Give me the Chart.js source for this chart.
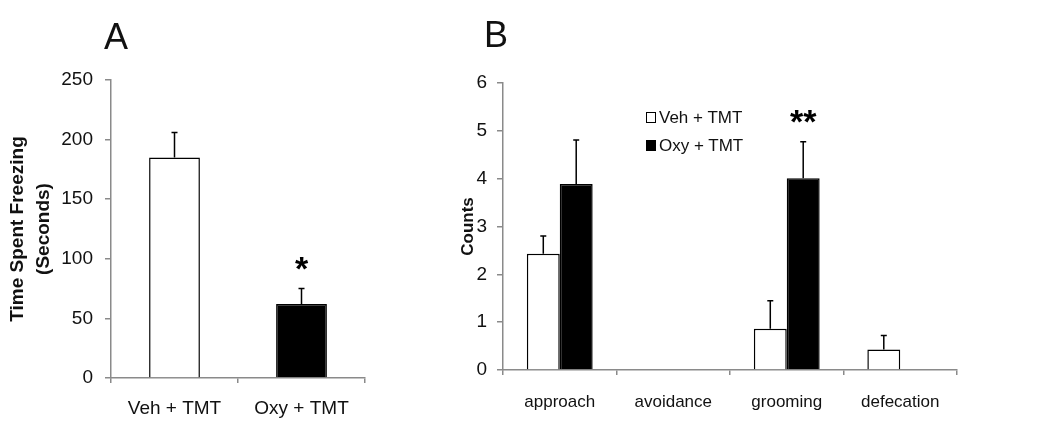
<!DOCTYPE html>
<html>
<head>
<meta charset="utf-8">
<script src="https://cdn.jsdelivr.net/npm/chart.js@4/dist/chart.umd.min.js"></script>
<style>
  body { margin: 0; background: #fff; font-family: "Liberation Sans", Arial, sans-serif; }
  #page { position: relative; width: 1050px; height: 425px; overflow: hidden; }
  .panel { position: absolute; top: 0; height: 425px; }
  .letter { position: absolute; font-size: 36px; line-height: 1; color: #111; }
  #legendB { position: absolute; left: 646px; top: 104px; font-size: 17px; color: #111; }
  #legendB .row { position: relative; height: 28px; line-height: 28px; padding-left: 13px; white-space: nowrap; }
  #legendB .box { position: absolute; left: 0; top: 8px; width: 8px; height: 9px; border: 1px solid #000; }
</style>
</head>
<body>
<div id="page">
  <div class="panel" style="left:0;width:380px"><canvas id="chartA"></canvas></div>
  <div class="panel" style="left:440px;width:610px"><canvas id="chartB"></canvas></div>
  <div class="letter" style="left:104px;top:19px">A</div>
  <div class="letter" style="left:484px;top:17px">B</div>
  <div id="legendB"></div>
</div>
<script>
// panel A
const groupsA = ['Veh + TMT', 'Oxy + TMT'];
const freezing = [185, 62];
const freezingErr = [21, 13];
const freezingSig = ['', '*'];

// panel B
const behaviours = ['approach', 'avoidance', 'grooming', 'defecation'];
const vehCounts = [2.43, 0, 0.86, 0.43];
const vehErr = [0.37, 0, 0.59, 0.29];
const oxyCounts = [3.89, 0, 4.01, 0];
const oxyErr = [0.92, 0, 0.76, 0];
const oxySig = ['', '', '**', ''];

const FONT = '"Liberation Sans", Arial, sans-serif';
const AXIS = '#8a8a8a';
const TEXT = '#111';

// error bars (upward only) and significance stars
const errorBars = {
  id: 'errorBars',
  afterDatasetsDraw(chart) {
    const ctx = chart.ctx;
    const y = chart.scales.y;
    chart.data.datasets.forEach((ds, i) => {
      const meta = chart.getDatasetMeta(i);
      meta.data.forEach((bar, j) => {
        const err = ds.errors ? ds.errors[j] : 0;
        if (!err) return;
        const top = y.getPixelForValue(ds.data[j] + err);
        ctx.save();
        ctx.strokeStyle = '#000';
        ctx.lineWidth = 1.5;
        ctx.beginPath();
        ctx.moveTo(bar.x, bar.y);
        ctx.lineTo(bar.x, top);
        ctx.moveTo(bar.x - 3, top);
        ctx.lineTo(bar.x + 3, top);
        ctx.stroke();
        const mark = ds.marks ? ds.marks[j] : '';
        if (mark) {
          ctx.fillStyle = '#000';
          ctx.font = 'bold 34px ' + FONT;
          ctx.textAlign = 'center';
          ctx.textBaseline = 'middle';
          ctx.fillText(mark, bar.x, top - 18);
        }
        ctx.restore();
      });
    });
  }
};

function axes(opts) {
  return {
    x: {
      offset: true,
      grid: { offset: true, drawOnChartArea: false, tickLength: 5, color: AXIS, lineWidth: 1.5 },
      border: { color: AXIS, width: 1.5 },
      ticks: { color: TEXT, font: { family: FONT, size: opts.xFont }, padding: opts.xPad, maxRotation: 0 },
      afterFit: s => { s.height = opts.xHeight; }
    },
    y: {
      min: 0, max: opts.max,
      grid: { drawOnChartArea: false, tickLength: 6, color: AXIS, lineWidth: 1.5 },
      border: { color: AXIS, width: 1.5 },
      ticks: { stepSize: opts.step, color: TEXT, font: { family: FONT, size: opts.yFont }, padding: opts.yPad },
      title: { display: true, text: opts.title, color: TEXT, font: { family: FONT, size: opts.titleFont, weight: 'bold', lineHeight: opts.titleLH }, padding: opts.titlePad },
      afterFit: s => { s.width = opts.yWidth; }
    }
  };
}

new Chart(document.getElementById('chartA'), {
  type: 'bar',
  data: {
    labels: groupsA,
    datasets: [{
      label: 'Freezing',
      data: freezing,
      errors: freezingErr,
      marks: freezingSig,
      backgroundColor: ['#ffffff', '#000000'],
      borderColor: '#000',
      borderWidth: 1.5,
      categoryPercentage: 0.4,
      barPercentage: 1
    }]
  },
  options: {
    responsive: true,
    maintainAspectRatio: false,
    animation: false,
    layout: { padding: { left: 0, right: 15, top: 80, bottom: 0 } },
    plugins: { legend: { display: false }, tooltip: { enabled: false } },
    scales: axes({ max: 250, step: 50, xFont: 19, yFont: 19, xPad: 14, yPad: 12, xHeight: 47, yWidth: 111,
      title: ['Time Spent Freezing', '(Seconds)'], titleFont: 19, titleLH: 1.37, titlePad: 5 })
  },
  plugins: [errorBars]
});

const chartB = new Chart(document.getElementById('chartB'), {
  type: 'bar',
  data: {
    labels: behaviours,
    datasets: [
      { label: 'Veh + TMT', data: vehCounts, errors: vehErr, backgroundColor: '#ffffff', borderColor: '#000', borderWidth: 1.5 },
      { label: 'Oxy + TMT', data: oxyCounts, errors: oxyErr, marks: oxySig, backgroundColor: '#000000', borderColor: '#000', borderWidth: 1.5 }
    ]
  },
  options: {
    responsive: true,
    maintainAspectRatio: false,
    animation: false,
    layout: { padding: { left: 0, right: 93, top: 83, bottom: 0 } },
    datasets: { bar: { categoryPercentage: 0.58, barPercentage: 1 } },
    plugins: { legend: { display: false }, tooltip: { enabled: false } },
    scales: axes({ max: 6, step: 1, xFont: 17, yFont: 19, xPad: 17, yPad: 10, xHeight: 55, yWidth: 63,
      title: 'Counts', titleFont: 17, titleLH: 1.2, titlePad: 18 })
  },
  plugins: [errorBars]
});

// legend for B, from the chart's datasets
const legendB = document.getElementById('legendB');
chartB.data.datasets.forEach(ds => {
  const row = document.createElement('div');
  row.className = 'row';
  const box = document.createElement('span');
  box.className = 'box';
  box.style.background = ds.backgroundColor;
  row.appendChild(box);
  row.appendChild(document.createTextNode(ds.label));
  legendB.appendChild(row);
});
</script>
</body>
</html>
